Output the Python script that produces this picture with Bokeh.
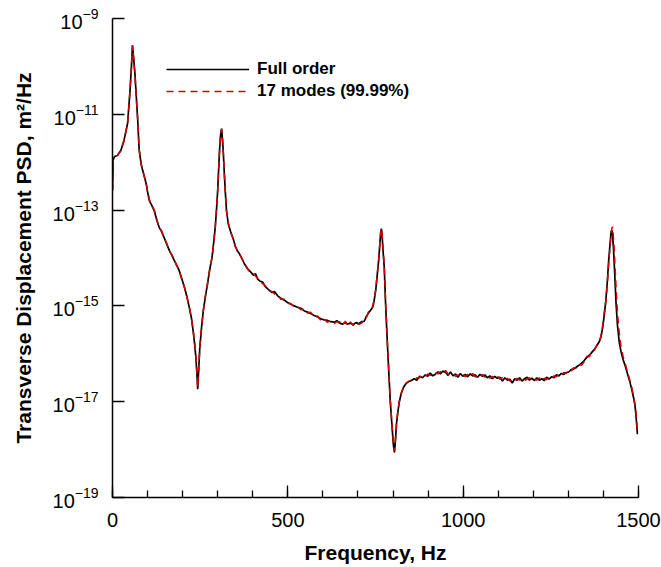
from bokeh.plotting import figure
from bokeh.models import Range1d, FixedTicker, Legend, LegendItem
from bokeh.embed import file_html
from bokeh.resources import INLINE

# ---------------- data ----------------
freq_hz = [
    0, 2, 6, 14, 24, 33, 43, 50, 54, 57,
    60, 64, 68, 72, 76, 82, 86, 92, 96, 100,
    105, 112, 119, 126, 133, 140, 147, 154, 162, 169,
    176, 183, 190, 197, 205, 212, 219, 225, 230, 235,
    238, 241, 243, 246, 249, 254, 259, 265, 271, 277,
    284, 289, 293, 297, 300, 303, 305, 308, 311, 314,
    316, 319, 322, 325, 330, 337, 345, 350, 356, 362,
    368, 376, 385, 395, 402, 408, 414, 420, 428, 437,
    445, 455, 462, 471, 480, 490, 499, 508, 518, 528,
    537, 546, 556, 565, 575, 585, 594, 603, 612, 622,
    632, 640, 648, 656, 664, 670, 678, 686, 694, 702,
    710, 718, 724, 730, 737, 742, 746, 751, 755, 759,
    762, 765, 767, 769, 772, 775, 779, 783, 788, 792,
    797, 801, 804, 807, 810, 814, 818, 823, 830, 837,
    845, 852, 860, 868, 876, 884, 892, 899, 906, 913,
    920, 928, 935, 942, 950, 957, 964, 971, 978, 985,
    992, 999, 1006, 1013, 1020, 1027, 1034, 1041, 1048, 1055,
    1062, 1069, 1076, 1083, 1090, 1097, 1105, 1112, 1119, 1126,
    1133, 1140, 1147, 1154, 1161, 1168, 1175, 1182, 1189, 1196,
    1203, 1210, 1217, 1224, 1231, 1238, 1245, 1252, 1259, 1266,
    1273, 1280, 1287, 1294, 1301, 1308, 1315, 1322, 1330, 1337,
    1344, 1352, 1360, 1368, 1375, 1382, 1388, 1393, 1398, 1403,
    1407, 1411, 1415, 1419, 1422, 1424, 1426, 1429, 1432, 1436,
    1440, 1445, 1450, 1456, 1462, 1468, 1474, 1480, 1486, 1490,
    1493, 1497,
]

# log10 of PSD (m^2/Hz), full order model
full_order_log10 = [
    -12.59, -11.95, -11.88, -11.86, -11.75, -11.54, -11.19, -10.50, -10.00, -9.56,
    -9.80, -10.15, -10.65, -11.13, -11.75, -12.05, -12.17, -12.33, -12.45, -12.62,
    -12.80, -12.90, -13.01, -13.20, -13.36, -13.45, -13.57, -13.70, -13.84, -13.94,
    -14.05, -14.15, -14.26, -14.42, -14.61, -14.80, -15.03, -15.25, -15.52, -15.85,
    -16.10, -16.45, -16.74, -16.30, -15.87, -15.45, -15.10, -14.80, -14.54, -14.25,
    -13.98, -13.65, -13.36, -12.95, -12.59, -12.10, -11.80, -11.45, -11.30, -11.55,
    -11.80, -12.25, -12.65, -13.00, -13.28, -13.45, -13.62, -13.75, -13.85, -13.91,
    -14.00, -14.12, -14.22, -14.30, -14.36, -14.33, -14.44, -14.48, -14.50, -14.61,
    -14.66, -14.72, -14.70, -14.79, -14.84, -14.88, -14.93, -14.96, -15.00, -15.03,
    -15.05, -15.10, -15.13, -15.16, -15.20, -15.23, -15.27, -15.29, -15.30, -15.33,
    -15.34, -15.31, -15.36, -15.38, -15.35, -15.38, -15.36, -15.39, -15.35, -15.37,
    -15.33, -15.32, -15.22, -15.15, -15.08, -15.03, -14.90, -14.65, -14.35, -14.05,
    -13.75, -13.45, -13.39, -13.55, -13.90, -14.20, -15.00, -15.65, -16.40, -16.98,
    -17.50, -17.90, -18.06, -17.80, -17.45, -17.20, -17.00, -16.84, -16.70, -16.62,
    -16.58, -16.56, -16.52, -16.55, -16.47, -16.50, -16.44, -16.47, -16.40, -16.46,
    -16.43, -16.38, -16.42, -16.36, -16.39, -16.45, -16.38, -16.46, -16.42, -16.49,
    -16.41, -16.47, -16.43, -16.48, -16.42, -16.46, -16.44, -16.49, -16.43, -16.47,
    -16.44, -16.50, -16.46, -16.52, -16.47, -16.51, -16.49, -16.57, -16.50, -16.55,
    -16.53, -16.61, -16.52, -16.55, -16.50, -16.57, -16.52, -16.49, -16.55, -16.51,
    -16.56, -16.50, -16.55, -16.52, -16.56, -16.49, -16.53, -16.48, -16.50, -16.44,
    -16.46, -16.41, -16.43, -16.39, -16.38, -16.33, -16.32, -16.28, -16.24, -16.20,
    -16.15, -16.08, -16.03, -15.96, -15.90, -15.82, -15.75, -15.65, -15.45, -15.15,
    -14.88, -14.50, -14.05, -13.70, -13.45, -13.42, -13.50, -13.85, -14.30, -14.95,
    -15.40, -15.75, -15.95, -16.12, -16.25, -16.40, -16.55, -16.72, -16.92, -17.08,
    -17.30, -17.68,
]

# log10 of PSD (m^2/Hz), 17-mode reduced model
reduced_log10 = [
    -12.59, -11.95, -11.89, -11.86, -11.76, -11.54, -11.20, -10.52, -10.02, -9.57,
    -9.82, -10.17, -10.66, -11.12, -11.73, -12.04, -12.18, -12.34, -12.44, -12.60,
    -12.78, -12.92, -12.99, -13.18, -13.37, -13.43, -13.58, -13.68, -13.85, -13.93,
    -14.04, -14.16, -14.25, -14.43, -14.60, -14.81, -15.02, -15.26, -15.50, -15.83,
    -16.08, -16.42, -16.70, -16.30, -15.86, -15.44, -15.10, -14.79, -14.53, -14.25,
    -13.97, -13.64, -13.35, -12.94, -12.58, -12.09, -11.79, -11.45, -11.31, -11.56,
    -11.81, -12.26, -12.66, -13.02, -13.27, -13.47, -13.60, -13.76, -13.84, -13.92,
    -13.99, -14.11, -14.23, -14.32, -14.33, -14.38, -14.42, -14.50, -14.53, -14.59,
    -14.68, -14.70, -14.75, -14.77, -14.86, -14.86, -14.95, -14.95, -15.02, -15.01,
    -15.08, -15.07, -15.15, -15.13, -15.24, -15.21, -15.30, -15.26, -15.34, -15.31,
    -15.37, -15.33, -15.33, -15.40, -15.32, -15.40, -15.33, -15.41, -15.33, -15.39,
    -15.36, -15.29, -15.24, -15.12, -15.10, -15.00, -14.88, -14.64, -14.34, -14.04,
    -13.74, -13.44, -13.38, -13.52, -13.86, -14.17, -14.96, -15.62, -16.38, -16.96,
    -17.48, -17.87, -18.03, -17.78, -17.43, -17.18, -16.98, -16.83, -16.69, -16.61,
    -16.57, -16.55, -16.55, -16.50, -16.50, -16.45, -16.48, -16.42, -16.45, -16.41,
    -16.39, -16.42, -16.37, -16.41, -16.35, -16.42, -16.43, -16.41, -16.47, -16.44,
    -16.46, -16.42, -16.48, -16.43, -16.47, -16.41, -16.48, -16.44, -16.47, -16.43,
    -16.49, -16.45, -16.51, -16.47, -16.52, -16.46, -16.53, -16.50, -16.55, -16.51,
    -16.57, -16.55, -16.58, -16.51, -16.55, -16.52, -16.56, -16.53, -16.50, -16.55,
    -16.52, -16.55, -16.50, -16.56, -16.51, -16.54, -16.49, -16.52, -16.46, -16.48,
    -16.42, -16.45, -16.39, -16.41, -16.35, -16.36, -16.29, -16.30, -16.22, -16.24,
    -16.18, -16.05, -16.06, -15.93, -15.92, -15.80, -15.76, -15.62, -15.40, -15.10,
    -14.90, -14.55, -14.12, -13.75, -13.50, -13.38, -13.35, -13.60, -14.00, -14.60,
    -15.15, -15.55, -15.85, -16.05, -16.20, -16.36, -16.52, -16.68, -16.88, -17.05,
    -17.25, -17.60,
]

series_labels = ["Full order", "17 modes (99.99%)"]
x_ticks = [0, 500, 1000, 1500]
x_minor_ticks = [0, 100, 200, 300, 400, 500, 600, 700, 800, 900, 1000,
                 1100, 1200, 1300, 1400, 1500]
y_tick_exponents = [-19, -17, -15, -13, -11, -9]

full_psd = [10.0 ** v for v in full_order_log10]
reduced_psd = [10.0 ** v for v in reduced_log10]

FONT = "Liberation Sans"

p = figure(width=661, height=567, output_backend="svg", toolbar_location=None,
           y_axis_type="log",
           x_range=Range1d(0, 1500), y_range=Range1d(1e-19, 1e-9),
           min_border_left=112, min_border_right=23,
           min_border_top=18, min_border_bottom=70)
p.outline_line_color = None
p.grid.visible = False
p.background_fill_color = "white"
p.border_fill_color = "white"

r_full = p.line(freq_hz, full_psd, line_color="black", line_width=1.7)
r_red = p.line(freq_hz, reduced_psd, line_color="#d40000", line_width=1.5,
               line_dash="7 5")

legend = Legend(items=[LegendItem(label=series_labels[0], renderers=[r_full]),
                       LegendItem(label=series_labels[1], renderers=[r_red])],
                location=(54, 395), glyph_width=83, glyph_height=22,
                label_height=22, label_standoff=8, spacing=0, padding=0,
                margin=0, border_line_color=None, background_fill_alpha=0,
                label_text_font=FONT, label_text_font_style="bold",
                label_text_font_size="17px", label_text_color="black")
p.add_layout(legend)

# x axis
xa = p.xaxis[0]
xa.ticker = FixedTicker(ticks=x_ticks, minor_ticks=x_minor_ticks)
xa.major_tick_in = 12
xa.major_tick_out = 0
xa.minor_tick_in = 7
xa.minor_tick_out = 0
xa.axis_line_width = 1.5
xa.major_tick_line_width = 1.3
xa.minor_tick_line_width = 1.3
xa.major_label_text_font = FONT
xa.major_label_text_font_size = "20px"
xa.major_label_text_color = "black"
xa.major_label_standoff = 15
xa.axis_label = "Frequency, Hz"
xa.axis_label_text_font = FONT
xa.axis_label_text_font_size = "21px"
xa.axis_label_text_font_style = "bold"
xa.axis_label_text_color = "black"
xa.axis_label_standoff = 11

# y axis (log formatter draws 10 with a superscript exponent)
ya = p.yaxis[0]
ya.ticker = FixedTicker(ticks=[10.0 ** e for e in y_tick_exponents], minor_ticks=[])
ya.major_tick_in = 12
ya.major_tick_out = 0
ya.minor_tick_in = 0
ya.minor_tick_out = 0
ya.axis_line_width = 1.5
ya.major_tick_line_width = 1.3
ya.major_label_text_font = FONT
ya.major_label_text_font_size = "20px"
ya.major_label_text_color = "black"
ya.major_label_standoff = 14
ya.axis_label = "Transverse Displacement PSD, m\u00b2/Hz"
ya.axis_label_text_font = FONT
ya.axis_label_text_font_size = "21px"
ya.axis_label_text_font_style = "bold"
ya.axis_label_text_color = "black"
ya.axis_label_standoff = 15

open("out.html", "w").write(file_html(p, INLINE))
